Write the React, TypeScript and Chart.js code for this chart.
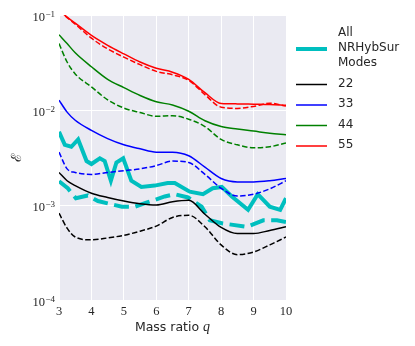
import React, { useEffect, useRef } from "react";
import { Chart, registerables } from "chart.js";

Chart.register(...registerables);

// ---- data ----
const qGrid = [3, 3.25, 3.5, 4, 4.5, 5, 5.5, 6, 6.5, 7, 7.5, 8, 8.5, 9, 9.5, 10];

const e22 = [0.0022, 0.0018, 0.0016, 0.00133, 0.0012, 0.0011, 0.00103, 0.001, 0.00108, 0.00112, 0.0008, 0.00058, 0.0005, 0.0005, 0.00054, 0.00059];
const e22Dash = [0.00082, 0.00057, 0.00046, 0.00043, 0.00045, 0.00048, 0.00053, 0.0006, 0.00074, 0.00078, 0.00059, 0.00038, 0.0003, 0.00032, 0.00038, 0.00046];
const e33 = [0.0127, 0.0095, 0.0078, 0.0061, 0.005, 0.0043, 0.0039, 0.0036, 0.0036, 0.0033, 0.0025, 0.0019, 0.00175, 0.00175, 0.0018, 0.0019];
const e33Dash = [0.0036, 0.0024, 0.0022, 0.0021, 0.0022, 0.0023, 0.0024, 0.0026, 0.0029, 0.0028, 0.0021, 0.0015, 0.00124, 0.0013, 0.00148, 0.0018];
const e44 = [0.062, 0.05, 0.04, 0.0285, 0.021, 0.0172, 0.0142, 0.0122, 0.0113, 0.0097, 0.0077, 0.0067, 0.0063, 0.006, 0.0057, 0.0055];
const e44Dash = [0.05, 0.032, 0.024, 0.0175, 0.0128, 0.0105, 0.0094, 0.0086, 0.0087, 0.008, 0.0067, 0.0049, 0.0043, 0.004, 0.0041, 0.0045];
const e55 = [0.112, 0.095, 0.082, 0.061, 0.048, 0.039, 0.032, 0.0275, 0.025, 0.021, 0.0152, 0.0117, 0.0116, 0.0115, 0.0114, 0.0112];
const e55Dash = [0.11, 0.094, 0.08, 0.057, 0.044, 0.036, 0.03, 0.0255, 0.0235, 0.0205, 0.0145, 0.0107, 0.0104, 0.0109, 0.0118, 0.011];

const qAll = [3.0, 3.18, 3.38, 3.59, 3.85, 4.0, 4.26, 4.41, 4.6, 4.77, 4.98, 5.23, 5.54, 5.95, 6.35, 6.57, 7.03, 7.44, 7.74, 8.02, 8.33, 8.83, 9.13, 9.5, 9.82, 10.0];
const eAll = [0.0059, 0.0043, 0.0041, 0.0049, 0.0029, 0.0027, 0.0031, 0.0029, 0.0018, 0.0028, 0.0031, 0.0018, 0.00155, 0.0016, 0.0017, 0.0017, 0.00138, 0.0013, 0.0015, 0.00155, 0.00123, 0.00089, 0.0013, 0.00096, 0.00089, 0.00118];
const qAllDash = [3.0, 3.27, 3.52, 3.89, 4.2, 4.5, 4.94, 5.34, 5.74, 6.26, 6.57, 6.98, 7.4, 7.65, 8.05, 8.79, 9.3, 9.72, 10.0];
const eAllDash = [0.00178, 0.0015, 0.00118, 0.00126, 0.0011, 0.00104, 0.00096, 0.00096, 0.00107, 0.00123, 0.0013, 0.0012, 0.00096, 0.00069, 0.00064, 0.00059, 0.00069, 0.00069, 0.00066];

const yTickValues = [1e-4, 1e-3, 1e-2, 1e-1];
const xTitle = "Mass ratio ";
const xTitleVar = "q";
const yTitle = "\u2130";

const legendLabels = [["All", "NRHybSur", "Modes"], ["22"], ["33"], ["44"], ["55"]];
const legendColors = ["#00BFBF", "#000000", "#0000FF", "#008000", "#FF0000"];
const legendWidths = [4, 1.5, 1.5, 1.5, 1.5];

const SERIF = '"Liberation Serif", "DejaVu Serif", serif';
const SANS = '"DejaVu Sans", sans-serif';
const TEXT = "#262626";

function pts(xs: number[], ys: number[]) {
  return xs.map((x, i) => ({ x, y: ys[i] }));
}

export default function App() {
  const ref = useRef<HTMLCanvasElement | null>(null);

  useEffect(() => {
    const canvas = ref.current;
    if (!canvas) return;

    const thin = 1.5;
    const thinDash = [5.5, 2.4];
    const thickDash = [15, 6.5];
    const mk = (data: any, color: string, width: number, dash: number[] | undefined, smooth: boolean) => ({
      data,
      borderColor: color,
      backgroundColor: color,
      borderWidth: width,
      borderDash: dash || [],
      pointRadius: 0,
      fill: false,
      tension: smooth ? 0.4 : 0,
      cubicInterpolationMode: smooth ? "monotone" : "default",
    });

    const datasets = [
      mk(pts(qGrid, e55), legendColors[4], thin, undefined, true),
      mk(pts(qGrid, e55Dash), legendColors[4], thin, thinDash, true),
      mk(pts(qGrid, e44), legendColors[3], thin, undefined, true),
      mk(pts(qGrid, e44Dash), legendColors[3], thin, thinDash, true),
      mk(pts(qGrid, e33), legendColors[2], thin, undefined, true),
      mk(pts(qGrid, e33Dash), legendColors[2], thin, thinDash, true),
      mk(pts(qGrid, e22), legendColors[1], thin, undefined, true),
      mk(pts(qGrid, e22Dash), legendColors[1], thin, thinDash, true),
      mk(pts(qAll, eAll), legendColors[0], 4, undefined, false),
      mk(pts(qAllDash, eAllDash), legendColors[0], 4, thickDash, false),
    ];

    const decor = {
      id: "decor",
      beforeDraw(chart: any) {
        const { ctx, chartArea: a } = chart;
        ctx.save();
        ctx.fillStyle = "#EAEAF2";
        ctx.fillRect(a.left, a.top, a.right - a.left, a.bottom - a.top);
        ctx.restore();
      },
      afterDraw(chart: any) {
        const { ctx, chartArea: a } = chart;
        const ys = chart.scales.y;
        ctx.save();
        ctx.fillStyle = TEXT;
        // y tick labels 10^n
        for (const t of ys.ticks) {
          const py = ys.getPixelForValue(t.value);
          const ex = Math.round(Math.log10(t.value));
          const sup = (ex < 0 ? "\u2212" : "") + Math.abs(ex);
          ctx.font = `9px ${SERIF}`;
          const sw = ctx.measureText(sup).width;
          ctx.font = `12.5px ${SERIF}`;
          const bw = ctx.measureText("10").width;
          const right = a.left - 4;
          ctx.textAlign = "left";
          ctx.textBaseline = "alphabetic";
          ctx.fillText("10", right - sw - bw - 0.5, py + 5.7);
          ctx.font = `9px ${SERIF}`;
          ctx.fillText(sup, right - sw, py + 1.7);
        }
        // y title
        ctx.save();
        ctx.translate(17, (a.top + a.bottom) / 2);
        ctx.rotate(-Math.PI / 2);
        ctx.font = `14px ${SERIF}`;
        ctx.textAlign = "center";
        ctx.textBaseline = "middle";
        ctx.fillText(yTitle, 0, 0);
        ctx.restore();
        // x title
        ctx.font = `12.5px ${SANS}`;
        const w1 = ctx.measureText(xTitle).width;
        ctx.font = `italic 14px ${SERIF}`;
        const w2 = ctx.measureText(xTitleVar).width;
        const sx = (a.left + a.right) / 2 - (w1 + w2) / 2;
        ctx.textAlign = "left";
        ctx.textBaseline = "alphabetic";
        ctx.font = `12.5px ${SANS}`;
        ctx.fillText(xTitle, sx, 331);
        ctx.font = `italic 14px ${SERIF}`;
        ctx.fillText(xTitleVar, sx + w1, 331);
        // legend
        const lineX0 = 296;
        const lineX1 = 327;
        const textX = 338;
        const lh = 15;
        const gap = 20.5;
        let y = 33;
        ctx.font = `12px ${SANS}`;
        ctx.textBaseline = "middle";
        legendLabels.forEach((lines, i) => {
          const midY = y + ((lines.length - 1) * lh) / 2;
          ctx.strokeStyle = legendColors[i];
          ctx.lineWidth = legendWidths[i];
          ctx.setLineDash([]);
          ctx.beginPath();
          ctx.moveTo(lineX0, midY + 1);
          ctx.lineTo(lineX1, midY + 1);
          ctx.stroke();
          ctx.fillStyle = TEXT;
          lines.forEach((s, j) => ctx.fillText(s, textX, y + j * lh));
          y += (lines.length - 1) * lh + gap;
        });
        ctx.restore();
      },
    };

    const chart = new Chart(canvas, {
      type: "line",
      data: { datasets: datasets as any },
      options: {
        responsive: false,
        animation: false,
        parsing: false as any,
        normalized: true,
        layout: { padding: { left: 0, right: 129, top: 15, bottom: 0 } },
        plugins: { legend: { display: false }, tooltip: { enabled: false } },
        scales: {
          x: {
            type: "linear",
            min: 3,
            max: 10,
            ticks: {
              stepSize: 1,
              color: TEXT,
              font: { family: SERIF, size: 12.5 },
              padding: 4,
              maxRotation: 0,
            },
            grid: { color: "#FFFFFF", lineWidth: 1, drawTicks: false },
            border: { display: false },
            afterFit: (s: any) => {
              s.height = 46;
            },
          },
          y: {
            type: "logarithmic",
            min: 1e-4,
            max: 1e-1,
            afterBuildTicks: (s: any) => {
              s.ticks = yTickValues.map((v) => ({ value: v }));
            },
            ticks: { display: false },
            grid: { color: "#FFFFFF", lineWidth: 1, drawTicks: false },
            border: { display: false },
            afterFit: (s: any) => {
              s.width = 59;
            },
          },
        },
      },
      plugins: [decor],
    });

    return () => chart.destroy();
  }, []);

  return (
    <div style={{ position: "absolute", left: 0, top: 0, width: 415, height: 346, background: "#fff" }}>
      <canvas ref={ref} width={415} height={346} style={{ display: "block" }} />
    </div>
  );
}
